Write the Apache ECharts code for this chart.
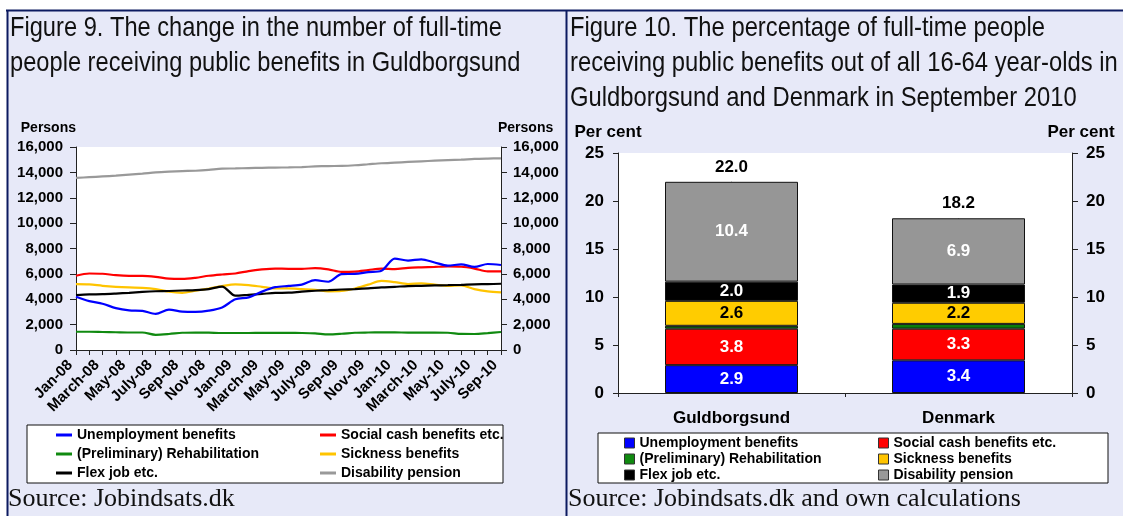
<!DOCTYPE html>
<html>
<head>
<meta charset="utf-8">
<script src="https://cdn.jsdelivr.net/npm/echarts@6/dist/echarts.min.js"></script>
<style>
html,body{margin:0;padding:0;background:#fff;}
#c{width:1123px;height:516px;}
</style>
</head>
<body>
<div id="c"></div>
<script>
// ---- Figure 9 data (persons) ----
const months = ['Jan-08','Feb-08','March-08','Apr-08','May-08','June-08','July-08','Aug-08','Sep-08','Oct-08','Nov-08','Dec-08',
  'Jan-09','Feb-09','March-09','Apr-09','May-09','June-09','July-09','Aug-09','Sep-09','Oct-09','Nov-09','Dec-09',
  'Jan-10','Feb-10','March-10','Apr-10','May-10','June-10','July-10','Aug-10','Sep-10'];
const unemployment = [4200,3850,3650,3300,3120,3080,2850,3180,3020,3000,3100,3350,4000,4150,4600,4950,5050,5150,5500,5380,5980,6000,6140,6250,7200,7050,7150,6900,6650,6750,6550,6780,6700];
const socialCash   = [5850,6030,6010,5900,5850,5850,5770,5620,5600,5690,5850,5950,6030,6220,6350,6420,6400,6400,6450,6350,6150,6180,6300,6420,6380,6480,6520,6550,6580,6560,6420,6200,6200];
const rehab        = [1440,1440,1420,1400,1380,1380,1200,1260,1360,1380,1370,1340,1340,1340,1350,1350,1350,1340,1310,1230,1280,1360,1380,1390,1390,1370,1370,1370,1360,1270,1260,1330,1420];
const sickness     = [5190,5170,5060,4980,4930,4900,4800,4590,4510,4670,4850,5040,5170,5110,4980,4850,4850,4800,4750,4620,4650,4850,5150,5450,5350,5200,5250,5150,5050,5100,4800,4620,4540];
const flexJob      = [4330,4380,4400,4450,4510,4580,4630,4650,4690,4720,4800,5000,4280,4350,4420,4500,4520,4600,4670,4720,4770,4800,4850,4930,4980,5040,5060,5090,5110,5140,5180,5190,5220];
const disability   = [13560,13620,13680,13740,13820,13900,14000,14060,14100,14130,14200,14300,14310,14340,14360,14380,14390,14420,14470,14500,14510,14560,14640,14720,14770,14820,14870,14920,14960,15000,15060,15090,15110];

// ---- Figure 10 data (per cent) ----
const regions = ['Guldborgsund','Denmark'];
const pctUnemployment = [2.9, 3.4];
const pctSocialCash   = [3.8, 3.3];
const pctRehab        = [0.3, 0.5];
const pctSickness     = [2.6, 2.2];
const pctFlexJob      = [2.0, 1.9];
const pctDisability   = [10.4, 6.9];
const pctTotal        = [22.0, 18.2];

const names = ['Unemployment benefits','Social cash benefits etc.','(Preliminary) Rehabilitation','Sickness benefits','Flex job etc.','Disability pension'];
const lineColors = ['#0000ff','#ff0000','#108a10','#ffc400','#000000','#999999'];
const barColors  = ['#0000ff','#ff0000','#0a7d0a','#ffcc00','#000000','#969696'];
const lineData = [unemployment, socialCash, rehab, sickness, flexJob, disability];
const barData  = [pctUnemployment, pctSocialCash, pctRehab, pctSickness, pctFlexJob, pctDisability];
const barLabelColors = ['#fff','#fff',null,'#000','#fff','#fff'];

const chart = echarts.init(document.getElementById('c'), null, {renderer:'canvas'});

const axisCol = '#222';
const FONT = 'Liberation Sans, Arial, sans-serif';
const bold = {fontWeight:'bold', color:'#000', fontFamily:FONT};

const series = [];
lineData.forEach((d, i) => {
  series.push({
    name: names[i], type:'line', xAxisIndex:0, yAxisIndex:0, data:d,
    smooth:0.3, showSymbol:false, symbol:'none',
    lineStyle:{width:2.2, color:lineColors[i]}, itemStyle:{color:lineColors[i]},
    z: i === 0 ? 5 : 3
  });
});
barData.forEach((d, i) => {
  series.push({
    name: names[i], type:'bar', xAxisIndex:1, yAxisIndex:2, data:d, stack:'pct',
    barWidth:133,
    itemStyle:{color:barColors[i], borderColor:'#111', borderWidth:1},
    label:{
      show: barLabelColors[i] !== null, position:'inside',
      formatter: p => p.value.toFixed(1),
      fontSize:17, fontWeight:'bold', color: barLabelColors[i] || '#fff', fontFamily:FONT
    }
  });
});
series.push({
  name:'Total', type:'scatter', xAxisIndex:1, yAxisIndex:2, data:pctTotal,
  symbol:'circle', symbolSize:0.5, itemStyle:{color:'#000', opacity:1},
  label:{show:true, position:'top', distance:6, formatter:p => p.value.toFixed(1),
    fontSize:17, fontWeight:'bold', color:'#000', opacity:1, fontFamily:FONT},
  emphasis:{disabled:true},
  z: 10
});

const lineLegendBase = {
  orient:'vertical', icon:'rect', itemWidth:16, itemHeight:3, itemGap:5, padding:0,
  itemStyle:{borderWidth:0},
  textStyle:Object.assign({fontSize:14, lineHeight:14}, bold),
  selectedMode:false
};
const barLegendBase = {
  orient:'vertical', icon:'rect', itemWidth:10, itemHeight:10, itemGap:2, padding:0,
  itemStyle:{borderColor:'#333', borderWidth:1},
  textStyle:Object.assign({fontSize:14, lineHeight:14}, bold),
  selectedMode:false
};

const titleFont = '28px "Liberation Sans", Arial, sans-serif';
const option = {
  animation:false,
  backgroundColor:'#ffffff',
  graphic:[
    {type:'rect', z:-100, shape:{x:7, y:10, width:1116, height:506}, style:{fill:'#e7e9f8'}},
    {type:'rect', z:0, shape:{x:27, y:425, width:476, height:58}, style:{fill:'#fff', stroke:'#111', lineWidth:1}},
    {type:'rect', z:0, shape:{x:598, y:433, width:510, height:50}, style:{fill:'#fff', stroke:'#111', lineWidth:1}},
    {type:'line', z:50, shape:{x1:6, y1:10.5, x2:1123, y2:10.5}, style:{stroke:'#0c1a60', lineWidth:2}},
    {type:'line', z:50, shape:{x1:7.5, y1:10, x2:7.5, y2:516}, style:{stroke:'#0c1a60', lineWidth:2}},
    {type:'line', z:50, shape:{x1:566.5, y1:10, x2:566.5, y2:516}, style:{stroke:'#0c1a60', lineWidth:2}},
    {type:'text', z:50, x:10, y:11, scaleX:0.845,
      style:{text:'Figure 9. The change in the number of full-time\npeople receiving public benefits in Guldborgsund',
        font:titleFont, lineHeight:35, fill:'#111'}},
    {type:'text', z:50, x:570, y:11, scaleX:0.85,
      style:{text:'Figure 10. The percentage of full-time people\nreceiving public benefits out of all 16-64 year-olds in\nGuldborgsund and Denmark in September 2010',
        font:titleFont, lineHeight:35, fill:'#111'}},
    {type:'text', z:50, x:8, y:499,
      style:{text:'Source: Jobindsats.dk', font:'26px "Liberation Serif", "Times New Roman", serif', fill:'#111', verticalAlign:'middle'}},
    {type:'text', z:50, x:568, y:499,
      style:{text:'Source: Jobindsats.dk and own calculations', font:'26px "Liberation Serif", "Times New Roman", serif', fill:'#111', verticalAlign:'middle'}}
  ],
  legend:[
    Object.assign({}, lineLegendBase, {left:56, top:428, data:[names[0], names[2], names[4]]}),
    Object.assign({}, lineLegendBase, {left:320, top:428, data:[names[1], names[3], names[5]]}),
    Object.assign({}, barLegendBase, {left:624, top:436, data:[names[0], names[2], names[4]]}),
    Object.assign({}, barLegendBase, {left:878, top:436, data:[names[1], names[3], names[5]]})
  ],
  grid:[
    {left:76, right:622, top:147, bottom:166, show:true, backgroundColor:'#fff', borderWidth:0},
    {left:618, right:51, top:153, bottom:123, show:true, backgroundColor:'#fff', borderWidth:0}
  ],
  xAxis:[
    {gridIndex:0, type:'category', data:months, boundaryGap:false,
      axisLine:{show:true, lineStyle:{color:axisCol, width:1}},
      axisTick:{show:true, interval:0, length:5, lineStyle:{color:axisCol}},
      axisLabel:Object.assign({interval:1, rotate:45, fontSize:15, margin:7, padding:[0,8,0,0]}, bold),
      splitLine:{show:false}},
    {gridIndex:1, type:'category', data:regions, boundaryGap:true,
      axisLine:{show:true, lineStyle:{color:axisCol, width:1}},
      axisTick:{show:true, length:4, lineStyle:{color:axisCol}},
      axisLabel:Object.assign({fontSize:17, margin:17}, bold),
      splitLine:{show:false}}
  ],
  yAxis:[
    {gridIndex:0, type:'value', position:'left', min:0, max:16000, interval:2000,
      name:'Persons', nameLocation:'end', nameGap:12,
      nameTextStyle:Object.assign({fontSize:14, align:'right'}, bold),
      axisLine:{show:true, lineStyle:{color:axisCol}},
      axisTick:{show:true, length:6, lineStyle:{color:axisCol}},
      axisLabel:Object.assign({fontSize:15, margin:13, formatter:v => v.toLocaleString('en-US')}, bold),
      splitLine:{show:false}},
    {gridIndex:0, type:'value', position:'right', min:0, max:16000, interval:2000,
      name:'Persons', nameLocation:'end', nameGap:12,
      nameTextStyle:Object.assign({fontSize:14, align:'left', padding:[0,0,0,-3]}, bold),
      axisLine:{show:true, lineStyle:{color:axisCol}},
      axisTick:{show:true, length:6, lineStyle:{color:axisCol}},
      axisLabel:Object.assign({fontSize:15, margin:12, formatter:v => v.toLocaleString('en-US')}, bold),
      splitLine:{show:false}},
    {gridIndex:1, type:'value', position:'left', min:0, max:25, interval:5,
      name:'Per cent', nameLocation:'end', nameGap:12,
      nameTextStyle:Object.assign({fontSize:17, align:'center', padding:[0,20,0,0]}, bold),
      axisLine:{show:true, lineStyle:{color:axisCol}},
      axisTick:{show:true, length:5, lineStyle:{color:axisCol}},
      axisLabel:Object.assign({fontSize:17, margin:14}, bold),
      splitLine:{show:false}},
    {gridIndex:1, type:'value', position:'right', min:0, max:25, interval:5,
      name:'Per cent', nameLocation:'end', nameGap:12,
      nameTextStyle:Object.assign({fontSize:17, align:'center', padding:[0,0,0,18]}, bold),
      axisLine:{show:true, lineStyle:{color:axisCol}},
      axisTick:{show:true, length:6, lineStyle:{color:axisCol}},
      axisLabel:Object.assign({fontSize:17, margin:14}, bold),
      splitLine:{show:false}}
  ],
  series:series
};
chart.setOption(option);
</script>
</body>
</html>
